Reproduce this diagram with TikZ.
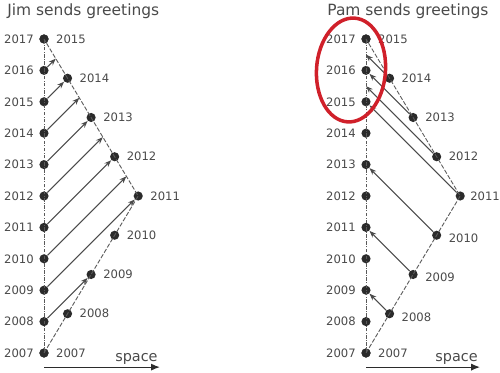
\documentclass[tikz,border=0pt]{standalone}
\usepackage{fontspec}
\setmainfont{DejaVu Sans}
\usetikzlibrary{arrows.meta,positioning}
\definecolor{dotgray}{HTML}{2B2B2B}
\definecolor{linegray}{HTML}{5A5A5A}
\definecolor{yeargray}{HTML}{4A4A4A}
\definecolor{markred}{HTML}{D0202A}

\begin{document}
\begin{tikzpicture}[
    dot/.style={circle, fill=dotgray, inner sep=0pt, minimum size=5.2pt},
    year/.style={font=\fontsize{6.6}{8}\selectfont\color{yeargray}},
    title/.style={font=\fontsize{8.8}{10}\selectfont\color{yeargray}, anchor=base west, inner sep=0pt},
    worldline/.style={linegray, line width=0.5pt, dash pattern=on 2pt off 0.8pt on 0.5pt off 0.8pt},
    shipline/.style={linegray, line width=0.5pt, dash pattern=on 2.5pt off 1pt},
    greet/.style={-{Stealth[length=4pt, width=3pt]}, line width=0.6pt, color=dotgray!85},
    spacearrow/.style={-{Latex[length=5pt, width=4pt]}, line width=0.6pt, color=dotgray},
    earth/.style={dot, label={[year, label distance=-0.5pt]left:#1}},
    ship/.style={dot, label={[year, label distance=0.6pt]right:#1}},
    shiplow/.style={dot, label={[year, label distance=0.6pt, yshift=-1.8pt]right:#1}}
]
\useasboundingbox (0,0) rectangle (10,7.46);

% --- titles ---
\node[title] (jimtitle) at (0.14,7.14) {Jim sends greetings};
\node[title] (pamtitle) at (6.54,7.14) {Pam sends greetings};

% --- Jim panel ---
\begin{scope}[shift={(0.88,0.40)}, x=0.628cm, y=0.628cm]
  \node[earth=2007] (je0)  at (0,0)  {};
  \node[earth=2008] (je1)  at (0,1)  {};
  \node[earth=2009] (je2)  at (0,2)  {};
  \node[earth=2010] (je3)  at (0,3)  {};
  \node[earth=2011] (je4)  at (0,4)  {};
  \node[earth=2012] (je5)  at (0,5)  {};
  \node[earth=2013] (je6)  at (0,6)  {};
  \node[earth=2014] (je7)  at (0,7)  {};
  \node[earth=2015] (je8)  at (0,8)  {};
  \node[earth=2016] (je9)  at (0,9)  {};
  \node[earth=2017] (je10) at (0,10) {};

  \node[ship=2007] (js0) at (0,0)       {};
  \node[ship=2008] (js1) at (0.75,1.25) {};
  \node[ship=2009] (js2) at (1.5,2.5)   {};
  \node[ship=2010] (js3) at (2.25,3.75) {};
  \node[ship=2011] (js4) at (3,5)       {};
  \node[ship=2012] (js5) at (2.25,6.25) {};
  \node[ship=2013] (js6) at (1.5,7.5)   {};
  \node[ship=2014] (js7) at (0.75,8.75) {};
  \node[ship=2015] (js8) at (0,10)      {};

  \coordinate (jh3) at (2.625,5.625);
  \coordinate (jh5) at (1.875,6.875);
  \coordinate (jh7) at (1.125,8.125);
  \coordinate (jh9) at (0.375,9.375);

  \draw[worldline] (je0.center) -- (je10.center);
  \draw[shipline] (js0.center) -- (js4.center) -- (js8.center);

  \draw[greet] (je1) -- (js2);
  \draw[greet] (je2) -- (js4);
  \draw[greet] (je3) -- (jh3);
  \draw[greet] (je4) -- (js5);
  \draw[greet] (je5) -- (jh5);
  \draw[greet] (je6) -- (js6);
  \draw[greet] (je7) -- (jh7);
  \draw[greet] (je8) -- (js7);
  \draw[greet] (je9) -- (jh9);

  \coordinate (jx0) at (0,-0.45);
  \coordinate (jx1) at (3.69,-0.45);
  \draw[spacearrow] (jx0) -- (jx1)
    node[anchor=south east, inner sep=1pt, font=\fontsize{8.2}{9}\selectfont, text=yeargray] {space};
\end{scope}

% --- Pam panel ---
\begin{scope}[shift={(7.32,0.40)}, x=0.628cm, y=0.628cm]
  \node[earth=2007] (pe0)  at (0,0)  {};
  \node[earth=2008] (pe1)  at (0,1)  {};
  \node[earth=2009] (pe2)  at (0,2)  {};
  \node[earth=2010] (pe3)  at (0,3)  {};
  \node[earth=2011] (pe4)  at (0,4)  {};
  \node[earth=2012] (pe5)  at (0,5)  {};
  \node[earth=2013] (pe6)  at (0,6)  {};
  \node[earth=2014] (pe7)  at (0,7)  {};
  \node[earth=2015] (pe8)  at (0,8)  {};
  \node[earth=2016] (pe9)  at (0,9)  {};
  \node[earth=2017] (pe10) at (0,10) {};

  \node[ship=2007]    (ps0) at (0,0)       {};
  \node[shiplow=2008] (ps1) at (0.75,1.25) {};
  \node[shiplow=2009] (ps2) at (1.5,2.5)   {};
  \node[shiplow=2010] (ps3) at (2.25,3.75) {};
  \node[dot, label={[year, label distance=-0.6pt]right:2011}] (ps4) at (3,5) {};
  \node[ship=2012]    (ps5) at (2.25,6.25) {};
  \node[ship=2013]    (ps6) at (1.5,7.5)   {};
  \node[ship=2014]    (ps7) at (0.75,8.75) {};
  \node[ship=2015]    (ps8) at (0,10)      {};

  \coordinate (ph5) at (0,8.5);
  \coordinate (ph7) at (0,9.5);

  \draw[worldline] (pe0.center) -- (pe10.center);
  \draw[shipline] (ps0.center) -- (ps4.center) -- (ps8.center);

  \draw[greet] (ps1) -- (pe2);
  \draw[greet] (ps2) -- (pe4);
  \draw[greet] (ps3) -- (pe6);
  \draw[greet] (ps4) -- (pe8);
  \draw[greet] (ps5) -- (ph5);
  \draw[greet] (ps6) -- (pe9);
  \draw[greet] (ps7) -- (ph7);

  \coordinate (px0) at (0,-0.45);
  \coordinate (px1) at (3.63,-0.45);
  \draw[spacearrow] (px0) -- (px1)
    node[anchor=south east, inner sep=1pt, font=\fontsize{8.2}{9}\selectfont, text=yeargray] {space};
\end{scope}

% --- highlight ---
\draw[markred, line width=2pt, rotate around={-4:(7.02,6.06)}] (7.02,6.06) ellipse (0.69 and 1.04);

\end{tikzpicture}
\end{document}
